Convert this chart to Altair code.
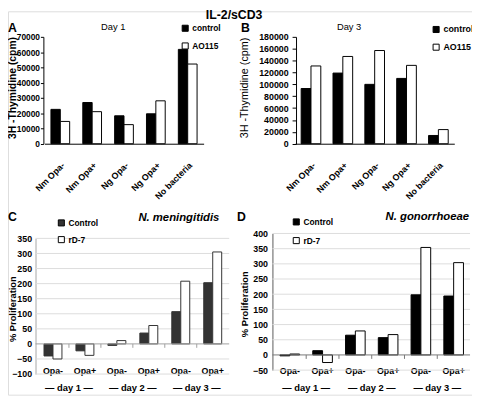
import altair as alt
import pandas as pd

FONT = "Liberation Sans"
W, H = 472, 390

# ---------------- data ----------------
ab_categories = ["Nm Opa-", "Nm Opa+", "Ng Opa-", "Ng Opa+", "No bacteria"]
ab_groups = ["control", "AO115"]
a_control = [22500, 27000, 18300, 19600, 61800]
a_ao115 = [14600, 21000, 12500, 28100, 52200]
b_control = [93000, 119000, 100000, 110000, 13900]
b_ao115 = [131000, 147000, 157000, 132000, 23800]
a_ticks = list(range(0, 70001, 10000))
b_ticks = list(range(0, 180001, 20000))

cd_categories = ["d1 Opa-", "d1 Opa+", "d2 Opa-", "d2 Opa+", "d3 Opa-", "d3 Opa+"]
cd_groups = ["Control", "rD-7"]
day_first = ["d1 Opa-", "d2 Opa-", "d3 Opa-"]
day_labels = ["\u2014 day 1 \u2014", "\u2014 day 2 \u2014", "\u2014 day 3 \u2014"]
c_control = [-40, -23, -5, 36, 107, 203]
c_rd7 = [-50, -38, 11, 61, 208, 305]
d_control = [-3, 14, 65, 57, 198, 194]
d_rd7 = [3, -25, 79, 67, 354, 304]
c_ticks = list(range(-100, 351, 50))
d_ticks = list(range(-50, 401, 50))


def long_df(cats, groups, s1, s2):
    rows = []
    for c, v1, v2 in zip(cats, s1, s2):
        rows.append({"cat": c, "grp": groups[0], "val": v1})
        rows.append({"cat": c, "grp": groups[1], "val": v2})
    return pd.DataFrame(rows)


def txt(text, x, y, size, weight="normal", style="normal", align="center",
        baseline="middle", angle=0):
    return alt.Chart(pd.DataFrame({"k": [0]})).mark_text(
        text=text, font=FONT, fontSize=size, fontWeight=weight, fontStyle=style,
        align=align, baseline=baseline, angle=angle, color="black"
    ).encode(x=alt.value(x), y=alt.value(y))


def legend(lx, ly, size, rowpad):
    return alt.Legend(orient="none", legendX=lx, legendY=ly, title=None,
                      symbolType="square", symbolSize=38,
                      symbolStrokeColor="black", symbolStrokeWidth=1,
                      labelFont=FONT, labelFontSize=size, labelFontWeight="bold",
                      labelColor="black", rowPadding=rowpad, labelOffset=3,
                      padding=0)


# ---------------- panels A / B ----------------
def ab_panel(df, xr, yr, ydom, yvals, yoff, ylabsize, ytick, ylpad, pad_off, leg):
    x = alt.X("cat:N", title=None,
              scale=alt.Scale(domain=ab_categories, range=xr, paddingInner=0, paddingOuter=0),
              axis=alt.Axis(orient="bottom", offset=yr[0] - H, domain=True, domainColor="black",
                            ticks=False, tickSize=0, labelAngle=315, labelAlign="right",
                            labelBaseline="middle", labelPadding=20, labelOffset=3,
                            labelFont=FONT, labelFontSize=9, labelFontWeight="bold",
                            labelColor="black", grid=False))
    y = alt.Y("val:Q", title=None,
              scale=alt.Scale(domain=ydom, range=yr, nice=False, zero=True),
              axis=alt.Axis(orient="left", offset=yoff, values=yvals, format="d",
                            labelFont=FONT, labelFontSize=ylabsize, labelFontWeight="bold",
                            labelColor="black", domainColor="black", tickColor="black",
                            tickSize=ytick, labelPadding=ylpad, grid=False))
    return alt.Chart(df).mark_bar(stroke="black", strokeWidth=1).encode(
        x=x,
        xOffset=alt.XOffset("grp:N", sort=ab_groups,
                            scale=alt.Scale(domain=ab_groups, paddingInner=0, paddingOuter=pad_off)),
        y=y,
        fill=alt.Fill("grp:N", scale=alt.Scale(domain=ab_groups, range=["black", "white"]),
                      legend=leg),
    )


panel_a = ab_panel(long_df(ab_categories, ab_groups, a_control, a_ao115),
                   [37, 199], [134.7, 26], [0, 70000], a_ticks, -36, 8.5, 3, 1, 0.7,
                   legend(176, 13, 8.5, 7))
panel_b = ab_panel(long_df(ab_categories, ab_groups, b_control, b_ao115),
                   [292, 454], [134.7, 26], [0, 180000], b_ticks, -293, 9, 4, 4, 0.62,
                   legend(431, 14, 9, 7))


# ---------------- panels C / D ----------------
def cd_panel(df, xr, yr, ydom, yvals, yoff, axis_col, ylpad, gx0, gx1, ctrl_col,
             zero_col, tick_len, pad_off, leg):
    xscale = alt.Scale(domain=cd_categories, range=xr, paddingInner=0, paddingOuter=0)
    grid = alt.Chart(pd.DataFrame({"val": [v for v in yvals if v != 0]})).mark_rule(
        color="#dcdcdc", strokeWidth=1
    ).encode(y=alt.Y("val:Q", title=None), x=alt.value(gx0), x2=alt.value(gx1))
    bars = alt.Chart(df).mark_bar(stroke=ctrl_col, strokeWidth=1).encode(
        x=alt.X("cat:N", title=None, scale=xscale,
                axis=alt.Axis(orient="bottom", offset=-25, domain=False, ticks=False,
                              tickSize=0, labelPadding=0, labelBaseline="middle",
                              labelAngle=0, labelFont=FONT, labelFontSize=9,
                              labelFontWeight="bold", labelColor="black", grid=False,
                              labelExpr="split(datum.label, ' ')[1]")),
        xOffset=alt.XOffset("grp:N", sort=cd_groups,
                            scale=alt.Scale(domain=cd_groups, paddingInner=0, paddingOuter=pad_off)),
        y=alt.Y("val:Q", title=None,
                scale=alt.Scale(domain=ydom, range=yr, nice=False, zero=False),
                axis=alt.Axis(orient="left", offset=yoff, values=yvals, format="d",
                              labelFont=FONT, labelFontSize=9, labelFontWeight="bold",
                              labelColor="black", domainColor=axis_col, ticks=False,
                              tickSize=0, labelPadding=ylpad, grid=False)),
        fill=alt.Fill("grp:N", scale=alt.Scale(domain=cd_groups, range=[ctrl_col, "white"]),
                      legend=leg),
    )
    zero = alt.Chart(pd.DataFrame({"k": [0]})).mark_rule(color=zero_col, strokeWidth=1).encode(
        y=alt.datum(0), x=alt.value(gx0), x2=alt.value(gx1))
    ticks = alt.Chart(pd.DataFrame({"cat": cd_categories[1:]})).mark_rule(
        color=zero_col, strokeWidth=1
    ).encode(x=alt.X("cat:N", bandPosition=0, title=None), y=alt.datum(0), y2=alt.datum(-tick_len))
    days = alt.Chart(pd.DataFrame({"cat": day_first, "lab": day_labels})).mark_text(
        font=FONT, fontSize=9.5, fontWeight="bold", color="black", baseline="middle"
    ).encode(x=alt.X("cat:N", bandPosition=1, title=None), y=alt.value(383.5), text="lab:N")
    return alt.layer(grid, bars, zero, ticks, days)


panel_c = cd_panel(long_df(cd_categories, cd_groups, c_control, c_rd7),
                   [29.5, 224.5], [369, 231], [-100, 350], c_ticks, -28, "#a6a6a6", 4,
                   28, 225, "#333333", "#a0a0a0", 13, 0.78, legend(50, 211, 8.5, 6))
panel_d = cd_panel(long_df(cd_categories, cd_groups, d_control, d_rd7),
                   [270, 470], [365, 226], [-50, 400], d_ticks, -269, "#595959", 5,
                   269, 470, "black", "#777777", 13, 0.67, legend(289, 210, 8.5, 8))

# ---------------- texts ----------------
texts = [
    txt("IL-2/sCD3", 230, -2, 12.5, weight="bold", baseline="top"),
    txt("A", 0, 17, 12.5, weight="bold", align="left"),
    txt("B", 237, 17, 12.5, weight="bold", align="left"),
    txt("C", 0, 209.5, 12.5, weight="bold", align="left"),
    txt("D", 233, 209, 12.5, weight="bold", align="left"),
    txt("Day 1", 107, 16, 9.5),
    txt("Day 3", 347, 16, 9.5),
    txt("N. meningitidis", 215, 210, 11.5, weight="bold", style="italic", align="right"),
    txt("N. gonorrhoeae", 469, 209, 11.5, weight="bold", style="italic", align="right"),
    txt("3H -Thymidine (cpm)", 5, 78, 10.5, weight="bold", angle=270),
    txt("3H -Thymidine (cpm)", 241, 78, 11, angle=270),
    txt("% Proliferation", 5, 303, 9.5, weight="bold", angle=270),
    txt("% Proliferation", 241, 298, 9.5, weight="bold", angle=270),
]

chart = alt.layer(panel_a, panel_b, panel_c, panel_d, *texts).resolve_scale(
    x="independent", y="independent", xOffset="independent", fill="independent"
).properties(
    width=W, height=H, autosize=alt.AutoSizeParams(type="none"), padding=0,
    background="white"
).configure_view(stroke=None).configure(font=FONT)

chart.save("out.html", embed_options={"renderer": "svg", "actions": False})
